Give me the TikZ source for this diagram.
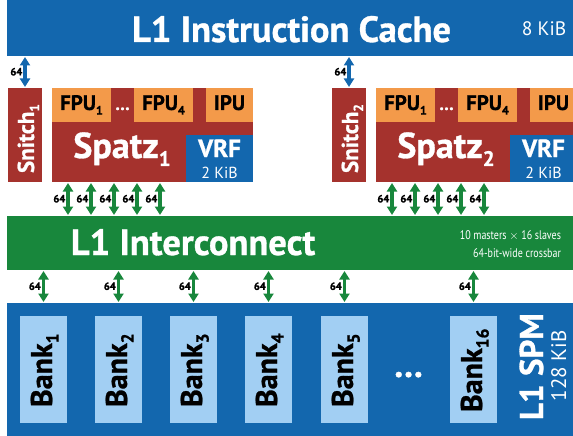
\documentclass[tikz,border=0pt]{standalone}
\usepackage{fontspec}
\setmainfont{PT Sans}
\newfontfamily\boldfam[FakeBold=0.9]{PT Sans}
\newcommand\boldf{\boldfam\bfseries}
\newfontfamily\regf{PT Sans}
\newfontfamily\condf[FakeStretch=0.8]{PT Sans}
\usetikzlibrary{arrows.meta}
\definecolor{cblue}{HTML}{1367AE}
\definecolor{cbrick}{HTML}{A5322D}
\definecolor{corange}{HTML}{F39A4A}
\definecolor{cgreen}{HTML}{18873C}
\definecolor{clight}{HTML}{A2CFF3}
\newcommand\fsz[1]{\fontsize{#1}{#1}\selectfont}
\newcommand\sbsc[1]{\raisebox{-.22em}{\scalebox{.58}{#1}}}
\tikzset{
  box/.style={rectangle,inner sep=0pt,outer sep=0pt,anchor=north west},
  lbl/.style={inner sep=0pt,outer sep=0pt,anchor=base,font=\boldf},
  white lbl/.style={lbl,text=white},
  vert/.style={lbl,rotate=90,anchor=base west},
  biarrow/.style={draw=#1,line width=3.3pt,shorten <=1pt,shorten >=1pt,
    {Triangle[length=8.5pt,width=10pt]}-{Triangle[length=8.5pt,width=10pt]}},
  width label/.style={inner sep=0pt,outer sep=0pt,anchor=east,font=\boldf\fsz{10.5},yshift=.3pt,xshift=-2.7pt}
}
\begin{document}
\begin{tikzpicture}[x=1pt,y=-1pt]
\useasboundingbox (0,0) rectangle (573,436);
\begin{scope}
\clip (0,0) rectangle (573,436);
% top cache
\node[box,fill=cblue,minimum width=566pt,minimum height=56pt] (cache) at (7,0) {};
\node[white lbl,font=\boldf\fsz{36.5}] (cachet) at (291.5,42) {L1 Instruction Cache};
\node[white lbl,font=\regf\fsz{19.5}] (cachek) at (544,36) {8 KiB};
% interconnect
\node[box,fill=cgreen,minimum width=566pt,minimum height=54pt] (ic) at (7,216) {};
\node[white lbl,font=\boldf\fsz{36.5}] (ict) at (193,255) {L1 Interconnect};
\node[lbl,text=white,anchor=base east,font=\condf\fsz{12.5}] (ica) at (561,239) {10 masters $\times$ 16 slaves};
\node[lbl,text=white,anchor=base east,font=\condf\fsz{12.5}] (icb) at (561,257) {64-bit-wide crossbar};
% SPM
\node[box,fill=cblue,minimum width=566pt,minimum height=133pt] (spm) at (7,303) {};
\foreach \n/\x/\s in {bA/20/1,bB/95/2,bC/170/3,bD/245/4,bE/321/5,bF/450/16}{
  \node[box,fill=clight,minimum width=47pt,minimum height=107pt] (\n) at (\x,316) {};
}
\foreach \n/\x/\s/\y in {bA/20/1/407,bB/95/2/407,bC/170/3/407,bD/245/4/407,bE/321/5/407,bF/450/16/412}{
  \node[vert,font=\boldf\fsz{30}] (\n t) at (\x+32,\y) {Bank\sbsc{\s}};
}
\node[white lbl,font=\boldf\fsz{36}] (bdots) at (408.5,377) {…};
\node[vert,text=white,font=\boldf\fsz{33}] (spmt) at (543,420) {L1 SPM};
\node[vert,text=white,font=\regf\fsz{21}] (spmk) at (566,401) {128 KiB};
% cluster 1
\node[box,fill=cbrick,minimum width=34pt,minimum height=94pt] (snA) at (8,88) {};
\node[vert,text=white,font=\boldf\fsz{23}] (snAt) at (34,173) {Snitch\sbsc{1}};
\node[box,fill=cbrick,minimum width=201pt,minimum height=94pt] (spA) at (52,88) {};
\node[box,fill=corange,minimum width=59pt,minimum height=34pt] (fAa) at (52,88) {};
\node[box,fill=corange,minimum width=59pt,minimum height=34pt] (fAb) at (134,88) {};
\node[box,fill=corange,minimum width=47pt,minimum height=34pt] (iA) at (206,88) {};
\node[box,fill=cblue,minimum width=67pt,minimum height=47pt] (vA) at (186,135) {};
\node[lbl,font=\boldf\fsz{21}] (fAat) at (81.5,110) {FPU\sbsc{1}};
\node[lbl,text=white,font=\boldf\fsz{18}] (dA) at (122.5,110) {…};
\node[lbl,font=\boldf\fsz{21}] (fAbt) at (163.5,110) {FPU\sbsc{4}};
\node[lbl,font=\boldf\fsz{21}] (iAt) at (229.5,110) {IPU};
\node[white lbl,font=\boldf\fsz{36}] (spAt) at (122,158) {Spatz\sbsc{1}};
\node[white lbl,font=\boldf\fsz{25}] (vAt) at (219.5,157) {VRF};
\node[white lbl,font=\regf\fsz{16}] (vAk) at (219.5,178) {2 KiB};
% cluster 2
\node[box,fill=cbrick,minimum width=34pt,minimum height=94pt] (snB) at (332,88) {};
\node[vert,text=white,font=\boldf\fsz{23}] (snBt) at (358,173) {Snitch\sbsc{2}};
\node[box,fill=cbrick,minimum width=201pt,minimum height=94pt] (spB) at (376,88) {};
\node[box,fill=corange,minimum width=59pt,minimum height=34pt] (fBa) at (376,88) {};
\node[box,fill=corange,minimum width=59pt,minimum height=34pt] (fBb) at (458,88) {};
\node[box,fill=corange,minimum width=47pt,minimum height=34pt] (iB) at (530,88) {};
\node[box,fill=cblue,minimum width=67pt,minimum height=47pt] (vB) at (510,135) {};
\node[lbl,font=\boldf\fsz{21}] (fBat) at (405.5,110) {FPU\sbsc{1}};
\node[lbl,text=white,font=\boldf\fsz{18}] (dB) at (446.5,110) {…};
\node[lbl,font=\boldf\fsz{21}] (fBbt) at (487.5,110) {FPU\sbsc{4}};
\node[lbl,font=\boldf\fsz{21}] (iBt) at (553.5,110) {IPU};
\node[white lbl,font=\boldf\fsz{36}] (spBt) at (446,158) {Spatz\sbsc{2}};
\node[white lbl,font=\boldf\fsz{25}] (vBt) at (543.5,157) {VRF};
\node[white lbl,font=\regf\fsz{16}] (vBk) at (543.5,178) {2 KiB};
% connectors: snitch to cache
\foreach \s in {snA,snB}{
  \draw[biarrow=cblue] (\s.north |- cache.south) -- coordinate (m\s) (\s.north);
  \node[width label] (l\s) at (m\s) {64};
}
% connectors: cores to interconnect
\foreach \p/\sp in {68/spA,91/spA,114/spA,137/spA,160/spA,392/spB,415/spB,438/spB,461/spB,484/spB}{
  \coordinate (c\p) at (\p,200);
  \draw[biarrow=cgreen] (c\p |- \sp.south) -- coordinate (n\p) (c\p |- ic.north);
  \node[width label] (l\p) at (n\p) {64};
}
% connectors: interconnect to banks
\foreach \b in {bA,bB,bC,bD,bE,bF}{
  \draw[biarrow=cgreen] (\b.north |- ic.south) -- coordinate (n\b) (\b.north |- spm.north);
  \node[width label] (l\b) at (n\b) {64};
}
\end{scope}
\end{tikzpicture}
\end{document}
